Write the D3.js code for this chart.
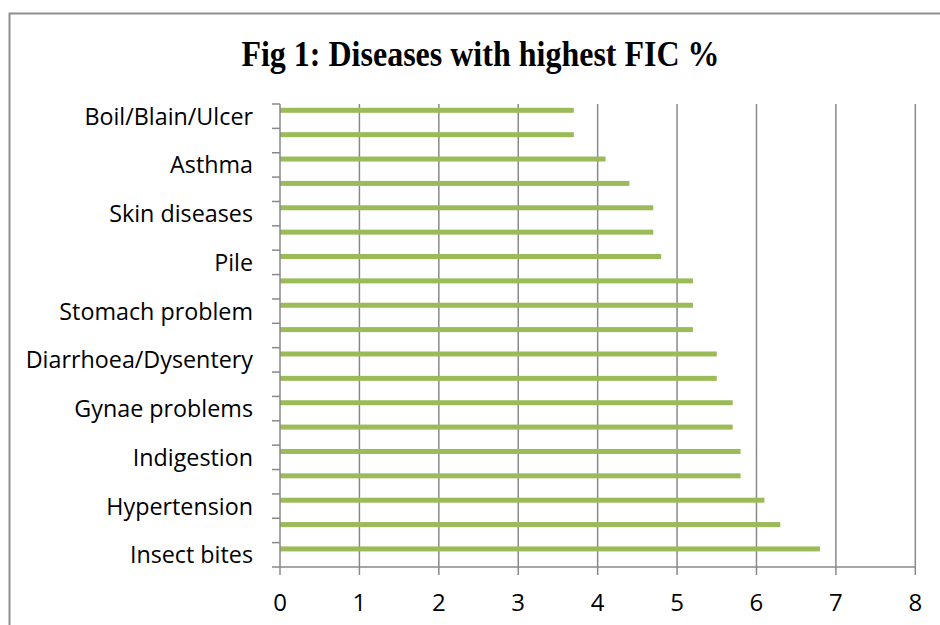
<!DOCTYPE html>
<html>
<head>
<meta charset="utf-8">
<script src="https://cdn.jsdelivr.net/npm/d3@7"></script>
<style>
  body { margin: 0; background: #fff; }
  svg { display: block; }
  .cat-label { font-family: "Open Sans", sans-serif; font-size: 23.3px; fill: #000; }
  .x-label { font-family: "Open Sans", sans-serif; font-size: 24px; fill: #000; }
  .title { font-family: "Liberation Serif", "Times New Roman", serif; font-weight: bold; font-size: 32px; }
</style>
</head>
<body>
<div id="chart"></div>
<script>
// categories listed bottom to top; blank entries are the unlabeled rows
const categories = [
  "Insect bites", "", "Hypertension", "", "Indigestion", "",
  "Gynae problems", "", "Diarrhoea/Dysentery", "", "Stomach problem", "",
  "Pile", "", "Skin diseases", "", "Asthma", "", "Boil/Blain/Ulcer",
];
const ficValues = [
  6.8, 6.3, 6.1, 5.8, 5.8, 5.7, 5.7, 5.5, 5.5, 5.2,
  5.2, 5.2, 4.8, 4.7, 4.7, 4.4, 4.1, 3.7, 3.7,
];
const xTicks = [0, 1, 2, 3, 4, 5, 6, 7, 8];
const chartTitle = "Fig 1: Diseases with highest FIC %";

const width = 940, height = 625;
const margin = { top: 104, right: 25, bottom: 58, left: 280 };
const innerW = 915.3 - margin.left;
const innerH = 567 - margin.top;

const rows = categories.map((c, i) => ({ idx: i, label: c, value: ficValues[i] }));

const svg = d3.select("#chart").append("svg")
  .attr("width", width)
  .attr("height", height);

// outer chart border
svg.append("rect")
  .attr("x", 9.5).attr("y", 13.5)
  .attr("width", 960).attr("height", 640)
  .attr("fill", "none")
  .attr("stroke", "#8f8f8f")
  .attr("stroke-width", 2);

// title is a little taller than plain Times in the original
svg.append("text")
  .attr("class", "title")
  .attr("transform", "translate(480.5,66) scale(1,1.12)")
  .attr("text-anchor", "middle")
  .text(chartTitle);

const g = svg.append("g")
  .attr("transform", `translate(${margin.left},${margin.top})`);

const x = d3.scaleLinear().domain([0, 8]).range([0, innerW]);
const y = d3.scaleBand()
  .domain(rows.map(d => d.idx).reverse())
  .range([0, innerH]);

// vertical gridlines
g.append("g")
  .selectAll("line")
  .data(xTicks.slice(1))
  .join("line")
  .attr("x1", d => x(d)).attr("x2", d => x(d))
  .attr("y1", 0).attr("y2", innerH)
  .attr("stroke", "#898989")
  .attr("stroke-width", 1.5);

// bars sit near the top of each band
g.selectAll("rect.bar")
  .data(rows)
  .join("rect")
  .attr("class", "bar")
  .attr("x", 0)
  .attr("y", d => y(d.idx) + 3.8)
  .attr("width", d => x(d.value))
  .attr("height", 5)
  .attr("fill", "#9bbb59");

// left axis: line + ticks at band boundaries
const yAxis = g.append("g");
yAxis.append("line")
  .attr("x1", 0).attr("x2", 0)
  .attr("y1", 0).attr("y2", innerH)
  .attr("stroke", "#898989").attr("stroke-width", 1.5);
const bounds = y.domain().map(d => y(d)).concat([innerH]);
yAxis.selectAll("line.tick")
  .data(bounds)
  .join("line")
  .attr("class", "tick")
  .attr("x1", -8).attr("x2", 0)
  .attr("y1", d => d).attr("y2", d => d)
  .attr("stroke", "#898989").attr("stroke-width", 1.5);
yAxis.selectAll("text")
  .data(rows.filter(d => d.label))
  .join("text")
  .attr("class", "cat-label")
  .attr("x", -27)
  .attr("y", d => y(d.idx) + y.bandwidth() / 2 + 8.5)
  .attr("text-anchor", "end")
  .text(d => d.label);

// bottom axis
const xAxis = g.append("g").attr("transform", `translate(0,${innerH})`);
xAxis.append("line")
  .attr("x1", 0).attr("x2", innerW)
  .attr("stroke", "#898989").attr("stroke-width", 1.5);
xAxis.selectAll("line.tick")
  .data(xTicks)
  .join("line")
  .attr("class", "tick")
  .attr("x1", d => x(d)).attr("x2", d => x(d))
  .attr("y1", 0).attr("y2", 8)
  .attr("stroke", "#898989").attr("stroke-width", 1.5);
xAxis.selectAll("text")
  .data(xTicks)
  .join("text")
  .attr("class", "x-label")
  .attr("x", d => x(d))
  .attr("y", 44)
  .attr("text-anchor", "middle")
  .text(d => d);
</script>
</body>
</html>
